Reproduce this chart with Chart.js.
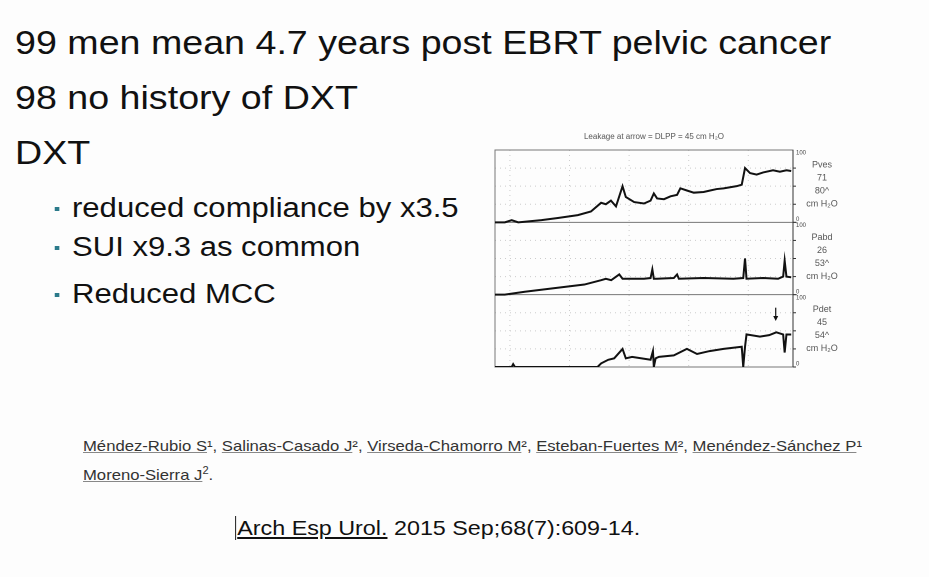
<!DOCTYPE html>
<html lang="en">
<head>
<meta charset="UTF-8">
<title>DXT urodynamics</title>
<script src="https://cdn.jsdelivr.net/npm/chart.js"></script>
<style>
  body { margin: 0; width: 929px; height: 577px; background: #fdfdfd; font-family: "Liberation Sans", Arial, sans-serif; position: relative; overflow: hidden; color: #111; }
  .t { position: absolute; white-space: nowrap; transform-origin: left center; }
  .big { font-size: 33px; left: 15px; transform: scaleX(1.14); }
  .bul { font-size: 27px; left: 72px; transform: scaleX(1.15); }
  .bul:before { content: ""; position: absolute; left: -15px; top: 14px; width: 4px; height: 4px; background: #2b7a8a; }
  .ref { font-size: 15px; color: #333; left: 83px; transform: scaleX(1.11); }
  .ref u { text-decoration-color: #888; }
  #wrap { position: absolute; left: 480px; top: 125px; width: 400px; height: 250px; }
</style>
</head>
<body>
<div class="t big" style="top:24px">99 men mean 4.7 years post EBRT pelvic cancer</div>
<div class="t big" style="top:79px">98 no history of DXT</div>
<div class="t big" style="top:134px">DXT</div>
<div class="t bul" style="top:193px">reduced compliance by x3.5</div>
<div class="t bul" style="top:232px">SUI x9.3 as common</div>
<div class="t bul" style="top:279px">Reduced MCC</div>
<div class="t ref" style="top:437px"><u>Méndez-Rubio S</u>¹, <u>Salinas-Casado J</u>², <u>Virseda-Chamorro M</u>², <u>Esteban-Fuertes M</u>², <u>Menéndez-Sánchez P</u>¹</div>
<div class="t ref" style="top:465px"><u>Moreno-Sierra J</u><sup style="font-size:10px">2</sup>.</div>
<div class="t" style="top:516px;left:235px;font-size:21px;transform:scaleX(1.11);border-left:1px solid #333;padding-left:1px"><u>Arch Esp Urol.</u> 2015 Sep;68(7):609-14.</div>
<div id="wrap"><canvas id="c" width="400" height="250"></canvas></div>
<script>
const traceX = [0,3.3,5.6,7.8,15.6,21.1,27.8,32.2,35.6,37.2,38.9,40.6,42.8,43.9,46.7,50,52.2,53.3,54.4,56.7,58.9,61.1,62.2,64.4,66.7,70,72.2,74.4,76.7,81.1,82.8,83.9,85.6,87.8,90,93.3,95.6,97.8,99.4];
const pves = [0,0,3,0,3,6,10,15,27,25,30,22,50,35,28,26,30,40,33,32,36,38,47,44,41,42,44,46,47,50,52,75,68,66,69,72,70,72,71];
const pabdX = [0,3.3,10,20,30,35.6,37.2,39,41.7,42.8,50,52.2,52.8,53.3,54.4,60,61.1,61.7,70,80,83.3,83.9,84.4,90,95,96.7,97.2,97.8,99.4];
const pabd = [0,0,4,9,14,20,22,20,28,22,22,23,35,22,22,23,28,22,23,22,23,50,22,23,22,25,47,25,24];
const pdetX = [0,5.6,6.1,6.7,34.4,35.6,38,40,42.8,43.9,46,52.2,53,53.3,53.9,55,60,64.4,67.8,72,76.7,82.8,83.3,83.9,84.4,88.9,92,94.4,96.7,97.2,97.8,99.4];
const pdet = [0,0,4,0,0,5,10,12,25,12,14,10,22,0,12,14,16,25,18,22,25,28,0,28,45,42,44,48,45,20,45,45];
const panelLabels = [["Pves","71","80^","cm H₂O"],["Pabd","26","53^","cm H₂O"],["Pdet","45","54^","cm H₂O"]];

const toPts = (xs, ys, off) => xs.map((x, i) => ({ x: x, y: ys[i] + off }));
const ds = (pts) => ({ data: pts, borderColor: '#111', borderWidth: 2, pointRadius: 0, tension: 0 });

const deco = {
  id: 'deco',
  beforeDatasetsDraw(chart) {
    const { ctx, chartArea: a, scales: { x, y } } = chart;
    ctx.save();
    ctx.strokeStyle = '#ccc'; ctx.lineWidth = 1; ctx.setLineDash([1, 4]);
    [5, 25, 45, 65, 85].forEach(v => { const px = x.getPixelForValue(v); ctx.beginPath(); ctx.moveTo(px, a.top); ctx.lineTo(px, a.bottom); ctx.stroke(); });
    [25, 50, 75, 125, 150, 175, 225, 250, 275].forEach(v => { const py = y.getPixelForValue(v); ctx.beginPath(); ctx.moveTo(a.left, py); ctx.lineTo(a.right, py); ctx.stroke(); });
    ctx.setLineDash([]);
    ctx.strokeStyle = '#777';
    ctx.strokeRect(a.left, a.top, a.right - a.left, a.bottom - a.top);
    [100, 200].forEach(v => { const py = y.getPixelForValue(v); ctx.beginPath(); ctx.moveTo(a.left, py); ctx.lineTo(a.right + 4, py); ctx.stroke(); });
    ctx.strokeStyle = '#333'; ctx.beginPath(); ctx.moveTo(a.right, a.top); ctx.lineTo(a.right, a.bottom); ctx.stroke();
    ctx.textBaseline = 'middle';
    [0, 1, 2].forEach(i => {
      const top = y.getPixelForValue(300 - i * 100), bot = y.getPixelForValue(200 - i * 100);
      ctx.font = '6px "Liberation Sans", Arial'; ctx.textAlign = 'left'; ctx.fillStyle = '#444';
      ctx.fillText('100', a.right + 3, top + 3); ctx.fillText('0', a.right + 3, bot - 3);
      [0, 25, 50, 75].forEach(v => { const py = y.getPixelForValue(200 - i * 100 + v); ctx.beginPath(); ctx.moveTo(a.right, py); ctx.lineTo(a.right + 3, py); ctx.stroke(); });
      ctx.font = '9px "Liberation Sans", Arial'; ctx.textAlign = 'center'; ctx.fillStyle = '#555';
      panelLabels[i].forEach((s, k) => ctx.fillText(s, a.right + 29, top + 15 + k * 13));
    });
    ctx.font = '8px "Liberation Sans", Arial'; ctx.textAlign = 'center'; ctx.fillStyle = '#555';
    ctx.fillText('Leakage at arrow = DLPP = 45 cm H₂O', (a.left + a.right) / 2 + 10, a.top - 13);
    // arrow over the leak point on Pdet
    const ax = x.getPixelForValue(94.2), y0 = y.getPixelForValue(82), y1 = y.getPixelForValue(65);
    ctx.strokeStyle = '#111'; ctx.fillStyle = '#111'; ctx.lineWidth = 1.2;
    ctx.beginPath(); ctx.moveTo(ax, y0); ctx.lineTo(ax, y1 - 1); ctx.stroke();
    ctx.beginPath(); ctx.moveTo(ax - 2.5, y1 - 4); ctx.lineTo(ax + 2.5, y1 - 4); ctx.lineTo(ax, y1 + 1); ctx.closePath(); ctx.fill();
    ctx.restore();
  }
};

new Chart(document.getElementById('c'), {
  type: 'line',
  data: { datasets: [ds(toPts(traceX, pves, 200)), ds(toPts(pabdX, pabd, 100)), ds(toPts(pdetX, pdet, 0))] },
  options: {
    responsive: false, animation: false, devicePixelRatio: 2,
    layout: { padding: { left: 15, right: 87, top: 25, bottom: 8 } },
    plugins: { legend: { display: false }, tooltip: { enabled: false } },
    scales: {
      x: { type: 'linear', min: 0, max: 100, display: false },
      y: { min: 0, max: 300, display: false }
    }
  },
  plugins: [deco]
});
</script>
</body>
</html>
